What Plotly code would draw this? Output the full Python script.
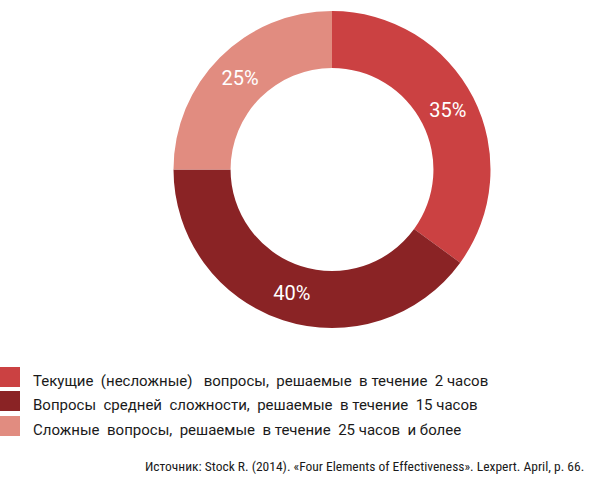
import plotly.graph_objects as go

# shares of questions by complexity
labels = [
    "Текущие  (несложные)   вопросы,  решаемые  в течение  2 часов",
    "Вопросы  средней  сложности,  решаемые  в течение  15 часов",
    "Сложные  вопросы,  решаемые  в течение  25 часов  и более",
]
values = [35, 40, 25]
colors = ["#CB4142", "#8A2325", "#E18C80"]
source = "Источник: Stock R. (2014). «Four Elements of Effectiveness». Lexpert. April, p. 66."

W, H = 600, 486
FONT = "Roboto, Noto Sans, sans-serif"

fig = go.Figure(
    go.Pie(
        labels=labels,
        values=values,
        hole=0.64,
        sort=False,
        direction="clockwise",
        rotation=0,
        marker=dict(colors=colors, line=dict(width=0)),
        textinfo="percent",
        textposition="inside",
        insidetextorientation="horizontal",
        textfont=dict(color="white", size=20, family=FONT),
        domain=dict(x=[173 / W, 491 / W], y=[1 - 328 / H, 1 - 11 / H]),
        showlegend=False,
        hoverinfo="label+percent",
    )
)

# hand-made legend: big squares at the left edge, text to the right
row_y = [377, 401, 426]
shapes, annotations = [], []
for lab, col, yc in zip(labels, colors, row_y):
    shapes.append(dict(
        type="rect", xref="paper", yref="paper",
        x0=0, x1=20 / W, y0=1 - (yc + 10) / H, y1=1 - (yc - 10) / H,
        fillcolor=col, line=dict(width=0),
    ))
    annotations.append(dict(
        text=lab.replace("  ", "\u00a0\u00a0"),
        xref="paper", yref="paper", x=31 / W, y=1 - (yc + 4) / H,
        xanchor="left", yanchor="middle", showarrow=False,
        font=dict(size=15, color="#1a1a1a", family=FONT),
    ))

annotations.append(dict(
    text=source, xref="paper", yref="paper", x=586 / W, y=1 - 466 / H,
    xanchor="right", yanchor="middle", showarrow=False,
    font=dict(size=13.5, color="#1a1a1a", family="Liberation Sans Narrow, Roboto Condensed, Noto Sans, sans-serif"),
))

fig.update_layout(
    width=W, height=H,
    margin=dict(l=0, r=0, t=0, b=0),
    paper_bgcolor="white",
    plot_bgcolor="white",
    shapes=shapes,
    annotations=annotations,
)

# drop the browser's default 8px body margin so the figure sits at the page corner
fig.write_html(
    "out.html",
    config={"displayModeBar": False},
    post_script="document.body.style.margin='0';",
)
